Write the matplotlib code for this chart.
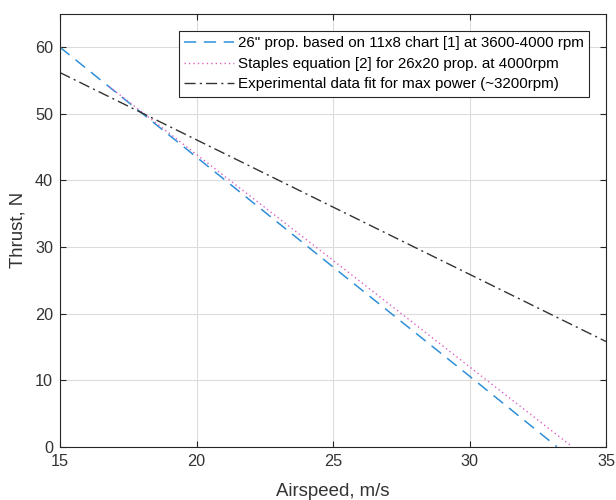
import matplotlib
matplotlib.use("Agg")
import matplotlib.pyplot as plt
import numpy as np

plt.rcParams['font.family'] = ['Liberation Sans', 'DejaVu Sans']

# Data
blue_x = [15.0, 20.0, 25.0, 30.0, 33.2]
blue_y = [60.0, 43.5, 27.0, 10.6, 0.0]
pink_x = [16.8, 20.0, 25.0, 30.0, 33.76]
pink_y = [54.1, 43.9, 28.0, 12.0, 0.0]
black_x = [15.0, 20.0, 25.0, 30.0, 35.0]
black_y = [56.2, 46.1, 36.0, 25.9, 15.8]

labels = ['26" prop. based on 11x8 chart [1] at 3600-4000 rpm',
          'Staples equation [2] for 26x20 prop. at 4000rpm',
          'Experimental data fit for max power (~3200rpm)']
xticks = [15, 20, 25, 30, 35]
yticks = [0, 10, 20, 30, 40, 50, 60]

fig = plt.figure(figsize=(6.16, 5.0), dpi=100)
ax = fig.add_axes([0.0974, 0.1066, 0.8864, 0.8654])

ax.plot(blue_x, blue_y, color='#2f8fd8', linestyle=(0, (8, 5)), linewidth=1.1, label=labels[0])
ax.plot(pink_x, pink_y, color='#e060c0', linestyle=(0, (1, 2.2)), linewidth=1.0, label=labels[1])
ax.plot(black_x, black_y, color='#333333', linestyle=(0, (8, 3, 1.5, 3)), linewidth=1.0, label=labels[2])

ax.set_xlim(15, 35)
ax.set_ylim(0, 65)
ax.set_xticks(xticks)
ax.set_yticks(yticks)
ax.grid(True, color='#dcdcdc', linewidth=0.8)
ax.set_axisbelow(True)
for s in ax.spines.values():
    s.set_color('#262626')
    s.set_linewidth(0.8)
ax.tick_params(direction='in', top=True, right=True, length=4, width=0.8,
               colors='#262626', labelsize=11.7, labelcolor='#333333', pad=5)
ax.set_xlabel('Airspeed, m/s', fontsize=13.4, color='#333333', labelpad=10)
ax.set_ylabel('Thrust, N', fontsize=13.4, color='#333333', labelpad=6)

leg = ax.legend(loc='upper right', bbox_to_anchor=(0.969, 0.9607), fontsize=10.9,
                frameon=True, fancybox=False, edgecolor='#262626', framealpha=1,
                handlelength=3.3, handletextpad=0.27, borderpad=0.35, labelspacing=0.43,
                borderaxespad=0)
leg.get_frame().set_linewidth(0.8)

fig.savefig('out.png', dpi=100)
